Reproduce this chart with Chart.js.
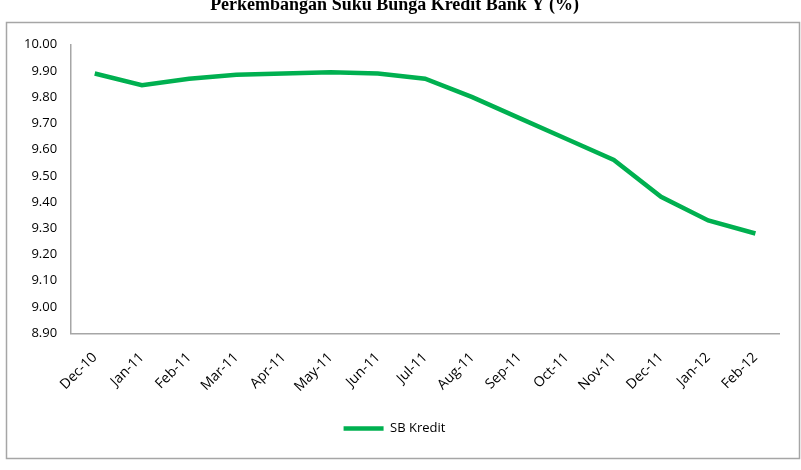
<!DOCTYPE html>
<html>
<head>
<meta charset="utf-8">
<script src="https://cdn.jsdelivr.net/npm/chart.js@4.4.0/dist/chart.umd.min.js"></script>
<style>
  html, body { margin: 0; padding: 0; background: #fff; }
  #wrap { position: relative; width: 801px; height: 470px; overflow: hidden; }
  #chart { position: absolute; left: 0; top: -8px; }
</style>
</head>
<body>
<div id="wrap"><canvas id="chart" width="801" height="478"></canvas></div>
<script>
const months = ['Dec-10', 'Jan-11', 'Feb-11', 'Mar-11', 'Apr-11', 'May-11', 'Jun-11', 'Jul-11',
  'Aug-11', 'Sep-11', 'Oct-11', 'Nov-11', 'Dec-11', 'Jan-12', 'Feb-12'];
const sbKredit = [9.89, 9.845, 9.87, 9.885, 9.89, 9.895, 9.89, 9.87,
  9.80, 9.72, 9.64, 9.56, 9.42, 9.33, 9.28];
const yMin = 8.90;
const yMax = 10.00;
const yStep = 0.10;

const green = '#00B050';
const tickFont = { family: 'Open Sans', size: 13 };

// outer frame of the chart object
const framePlugin = {
  id: 'frame',
  beforeDraw(chart) {
    const c = chart.ctx;
    c.save();
    c.fillStyle = '#fff';
    c.fillRect(0, 0, chart.width, chart.height);
    c.strokeStyle = '#A6A6A6';
    c.lineWidth = 1.5;
    c.strokeRect(6.5, 30.5, 793, 436);
    c.restore();
  }
};

const ctx = document.getElementById('chart').getContext('2d');
const myChart = new Chart(ctx, {
  type: 'line',
  data: {
    labels: months,
    datasets: [{
      label: 'SB Kredit',
      data: sbKredit,
      borderColor: green,
      backgroundColor: green,
      borderWidth: 4.5,
      pointRadius: 0,
      tension: 0
    }]
  },
  options: {
    responsive: false,
    animation: false,
    layout: { padding: { left: 10, right: 22, top: 0, bottom: 25 } },
    plugins: {
      title: {
        display: true,
        text: 'Perkembangan Suku Bunga Kredit Bank Y (%)',
        color: '#000',
        font: { family: 'Liberation Serif', size: 18, weight: 'bold' },
        padding: { top: 3, bottom: 28 }
      },
      legend: {
        position: 'bottom',
        labels: {
          usePointStyle: true,
          pointStyle: 'line',
          pointStyleWidth: 40,
          color: '#000',
          font: tickFont,
          padding: 11
        }
      },
      tooltip: { enabled: false }
    },
    scales: {
      x: {
        offset: true,
        grid: { display: false, drawTicks: false },
        border: { display: true, color: '#A6A6A6', width: 1.5 },
        ticks: {
          color: '#000',
          font: { family: 'Open Sans', size: 14 },
          minRotation: 45,
          maxRotation: 45,
          padding: 16,
          autoSkip: false
        }
      },
      y: {
        min: yMin,
        max: yMax,
        grid: { display: false, drawTicks: false },
        border: { display: true, color: '#A6A6A6', width: 1.5 },
        ticks: {
          stepSize: yStep,
          color: '#000',
          font: tickFont,
          padding: 14,
          callback: v => v.toFixed(2)
        }
      }
    }
  },
  plugins: [framePlugin]
});
</script>
</body>
</html>
